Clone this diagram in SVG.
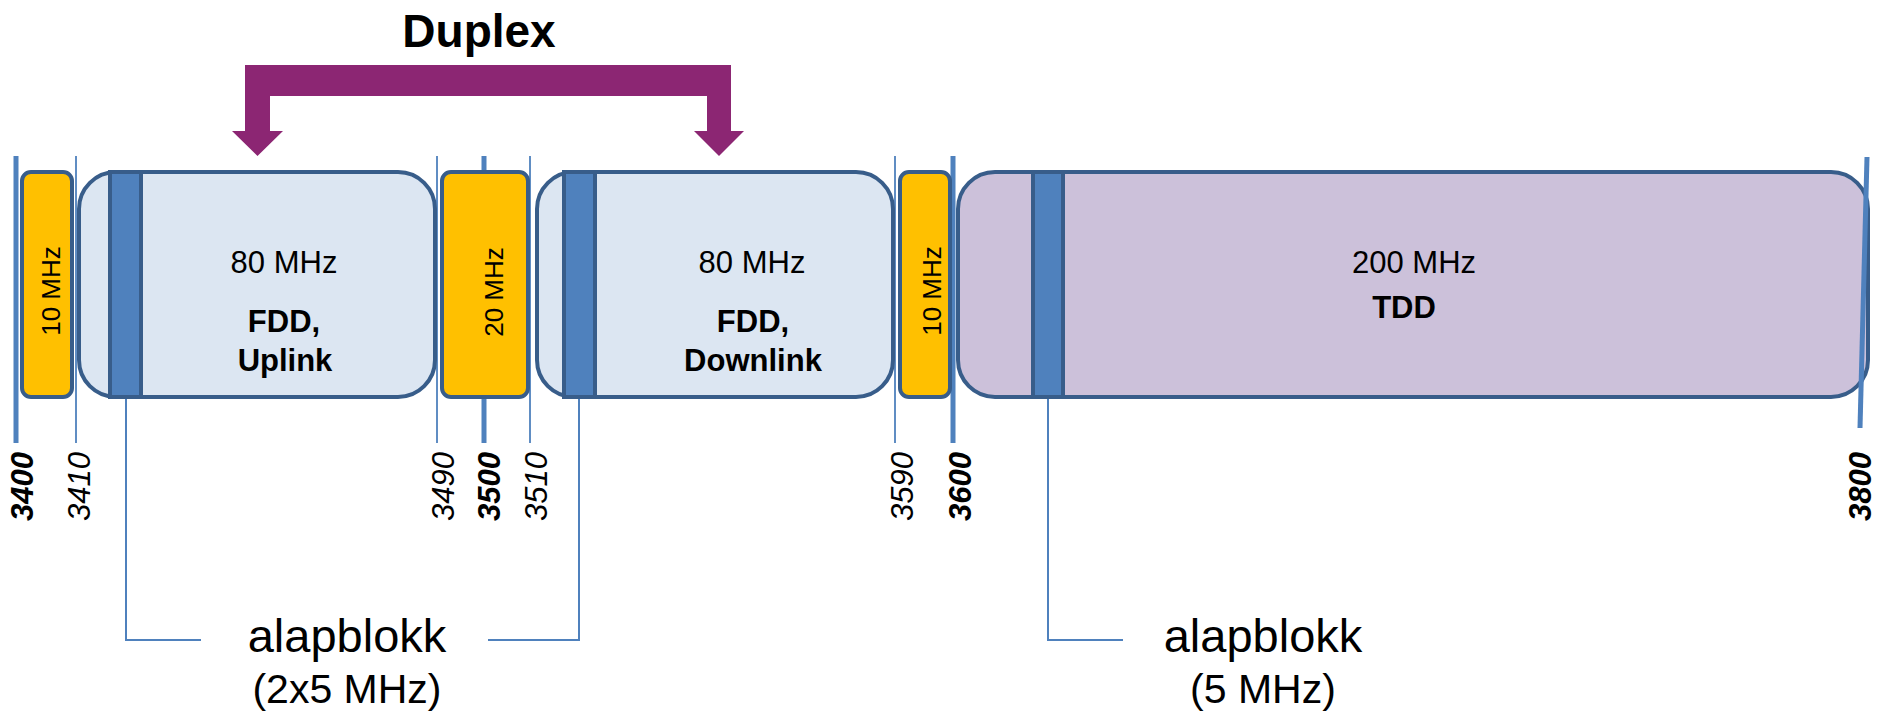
<svg xmlns="http://www.w3.org/2000/svg" width="1879" height="711" viewBox="0 0 1879 711">
<style>
text{font-family:"Liberation Sans",Arial,sans-serif;fill:#000}
.band{stroke:#385D8A;stroke-width:4}
.fdd{fill:#DCE6F2}
.tdd{fill:#CCC1DA}
.gap{fill:#FFC000}
.bar{fill:#4F81BD;stroke:#385D8A;stroke-width:4}
.tk{stroke:#4F81BD;stroke-width:5}
.tn{stroke:#4F81BD;stroke-width:1.8}
.conn{fill:none;stroke:#4F81BD;stroke-width:2}
.lb{font-size:31px;font-style:italic;font-weight:bold}
.ln{font-size:31px;font-style:italic}
.g{font-size:26px}
.m{font-size:31px}
.b{font-size:31px;font-weight:bold}
.al{font-size:47px}
.sub{font-size:41px}
</style>
<rect width="1879" height="711" fill="#fff"/>
<g id="ticks">
<line class="tk" x1="16" y1="156" x2="16" y2="443"/>
<line class="tn" x1="76" y1="156" x2="76" y2="443"/>
<line class="tn" x1="437" y1="156" x2="437" y2="443"/>
<line class="tk" x1="484" y1="156" x2="484" y2="443"/>
<line class="tn" x1="530" y1="156" x2="530" y2="443"/>
<line class="tn" x1="895" y1="156" x2="895" y2="443"/>
<line class="tk" x1="953" y1="156" x2="953" y2="443"/>
</g>
<g id="gap1">
<rect class="band gap" x="22" y="172" width="50" height="225" rx="9"/>
<text class="g" transform="translate(60,291) rotate(-90)" text-anchor="middle">10 MHz</text>
</g>
<g id="fdd-uplink">
<rect class="band fdd" x="79" y="172" width="356" height="225" rx="37"/>
<rect class="bar" x="110" y="172" width="31" height="225"/>
<text class="m" x="284" y="273" text-anchor="middle">80 MHz</text>
<text class="b" x="284" y="332" text-anchor="middle">FDD,</text>
<text class="b" x="285" y="371" text-anchor="middle">Uplink</text>
</g>
<g id="gap2">
<rect class="band gap" x="442" y="172" width="86" height="225" rx="9"/>
<text class="g" transform="translate(503,292) rotate(-90)" text-anchor="middle">20 MHz</text>
</g>
<g id="fdd-downlink">
<rect class="band fdd" x="537" y="172" width="356" height="225" rx="37"/>
<rect class="bar" x="564" y="172" width="31" height="225"/>
<text class="m" x="752" y="273" text-anchor="middle">80 MHz</text>
<text class="b" x="753" y="332" text-anchor="middle">FDD,</text>
<text class="b" x="753" y="371" text-anchor="middle">Downlink</text>
</g>
<g id="gap3">
<rect class="band gap" x="900" y="172" width="50" height="225" rx="9"/>
<text class="g" transform="translate(941,291) rotate(-90)" text-anchor="middle">10 MHz</text>
</g>
<g id="tdd">
<rect class="band tdd" x="958" y="172" width="910" height="225" rx="37"/>
<rect class="bar" x="1033" y="172" width="30" height="225"/>
<text class="m" x="1414" y="273" text-anchor="middle">200 MHz</text>
<text class="b" x="1404" y="318" text-anchor="middle">TDD</text>
</g>
<g id="tick3800">
<line class="tk" x1="1867" y1="157" x2="1860" y2="428"/>
</g>
<g id="tick-labels">
<text class="lb" transform="translate(33,452) rotate(-90)" text-anchor="end">3400</text>
<text class="ln" transform="translate(90,452) rotate(-90)" text-anchor="end">3410</text>
<text class="ln" transform="translate(454,452) rotate(-90)" text-anchor="end">3490</text>
<text class="lb" transform="translate(500,452) rotate(-90)" text-anchor="end">3500</text>
<text class="ln" transform="translate(547,452) rotate(-90)" text-anchor="end">3510</text>
<text class="ln" transform="translate(913,452) rotate(-90)" text-anchor="end">3590</text>
<text class="lb" transform="translate(971,452) rotate(-90)" text-anchor="end">3600</text>
<text class="lb" transform="translate(1871,452) rotate(-90)" text-anchor="end">3800</text>
</g>
<g id="duplex">
<polygon fill="#8C2673" points="245,65 731,65 731,131 744,131 719,156 694,131 707,131 707,96 270,96 270,131 283,131 257.5,156 232,131 245,131"/>
<text x="479" y="47" font-size="46" font-weight="bold" text-anchor="middle">Duplex</text>
</g>
<g id="connectors">
<path class="conn" d="M126,399 V640 H201"/>
<path class="conn" d="M488,640 H579 V399"/>
<path class="conn" d="M1048,399 V640 H1123"/>
</g>
<g id="label-fdd-block">
<text class="al" x="347" y="652" text-anchor="middle">alapblokk</text>
<text class="sub" x="347" y="703" text-anchor="middle">(2x5 MHz)</text>
</g>
<g id="label-tdd-block">
<text class="al" x="1263" y="652" text-anchor="middle">alapblokk</text>
<text class="sub" x="1263" y="703" text-anchor="middle">(5 MHz)</text>
</g>
</svg>
